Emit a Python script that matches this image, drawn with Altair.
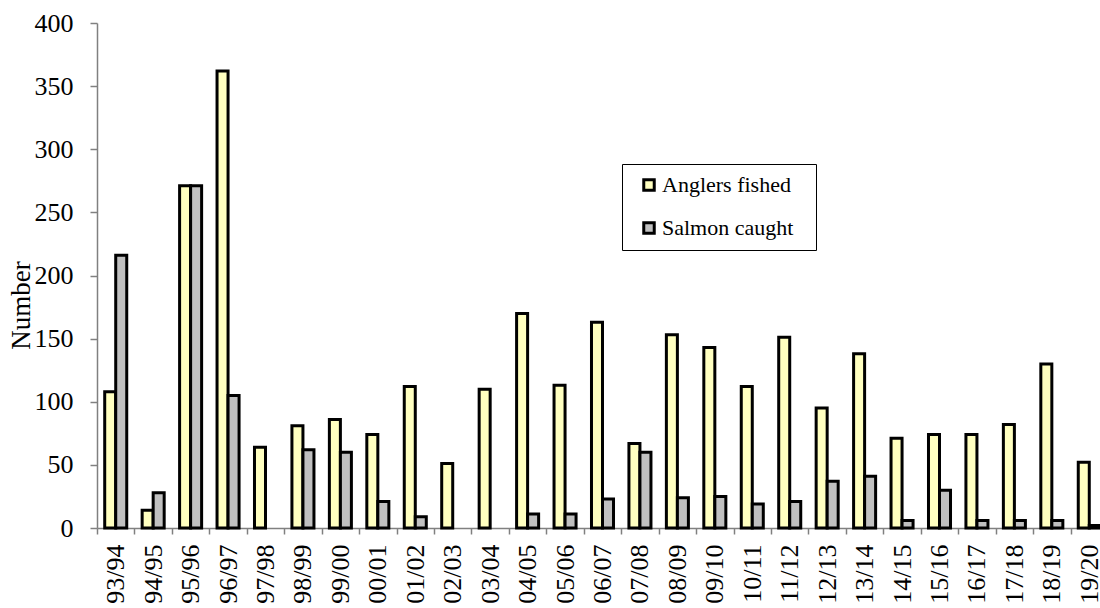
import altair as alt
import pandas as pd

# Fishing seasons and the two counted series
seasons = ["93/94", "94/95", "95/96", "96/97", "97/98", "98/99", "99/00",
           "00/01", "01/02", "02/03", "03/04", "04/05", "05/06", "06/07",
           "07/08", "08/09", "09/10", "10/11", "11/12", "12/13", "13/14",
           "14/15", "15/16", "16/17", "17/18", "18/19", "19/20"]
anglers = [108, 14, 271, 362, 64, 81, 86, 74, 112, 51, 110, 170, 113, 163,
           67, 153, 143, 112, 151, 95, 138, 71, 74, 74, 82, 130, 52]
salmon = [216, 28, 271, 105, 0, 62, 60, 21, 9, 0, 0, 11, 11, 23,
          60, 24, 25, 19, 21, 37, 41, 6, 30, 6, 6, 6, 2]
series_names = ["Anglers fished", "Salmon caught"]
series_colors = ["#FFFFC0", "#C0C0C0"]
y_ticks = [0, 50, 100, 150, 200, 250, 300, 350, 400]

rows = []
for s, a, c in zip(seasons, anglers, salmon):
    rows.append({"season": s, "series": series_names[0], "value": a})
    rows.append({"season": s, "series": series_names[1], "value": c})
df = pd.DataFrame(rows)

serif = "Liberation Serif"

bars = alt.Chart(df).transform_filter(
    alt.datum.value > 0
).mark_bar(stroke="black", strokeWidth=3).encode(
    x=alt.X(
        "season:N",
        sort=seasons,
        scale=alt.Scale(domain=seasons, range=[0, 1011], paddingInner=0, paddingOuter=0),
        axis=alt.Axis(
            title=None, labelAngle=270, labelAlign="right", labelBaseline="middle",
            tickBand="extent", tickSize=6, labelPadding=10,
        ),
    ),
    xOffset=alt.XOffset(
        "series:N",
        scale=alt.Scale(domain=series_names, paddingInner=0, paddingOuter=0.7),
    ),
    y=alt.Y(
        "value:Q",
        scale=alt.Scale(domain=[0, 400], nice=False),
        axis=alt.Axis(
            values=y_ticks, title="Number", tickSize=7, labelPadding=17,
            titleAngle=270, titleX=-68, titleY=282, titleAlign="center",
            titleBaseline="alphabetic",
        ),
    ),
    color=alt.Color(
        "series:N",
        scale=alt.Scale(domain=series_names, range=series_colors),
        legend=alt.Legend(
            # a transparent spacer title widens the legend frame on its right side
            title="\u2014", titleOrient="right", titleFontSize=13, titlePadding=0,
            titleOpacity=0,
            orient="none", legendX=525, legendY=141, direction="vertical",
            strokeColor="black", fillColor="white", padding=10,
            symbolType="square", symbolSize=110, symbolStrokeColor="black",
            symbolStrokeWidth=3, symbolOffset=6, labelFontSize=22,
            labelFont=serif, labelOffset=2, rowPadding=19, labelColor="black",
        ),
    ),
)

chart = bars.properties(
    width=1003,
    height=505,
    autosize=alt.AutoSizeParams(type="none"),
    padding={"left": 97, "top": 23, "right": 0, "bottom": 80},
    background="white",
).configure_axis(
    labelFont=serif, labelFontSize=26, labelColor="black",
    titleFont=serif, titleFontSize=27, titleColor="black", titleFontWeight="normal",
    domainColor="#808080", tickColor="#808080", domainWidth=1.5, tickWidth=1.5,
    grid=False,
).configure_legend(
    strokeWidth=1, cornerRadius=0, labelFont=serif, titleFont=serif,
    labelFontSize=22, labelColor="black",
).configure_view(stroke=None)

chart.save("out.html", embed_options={"renderer": "svg", "actions": False})
